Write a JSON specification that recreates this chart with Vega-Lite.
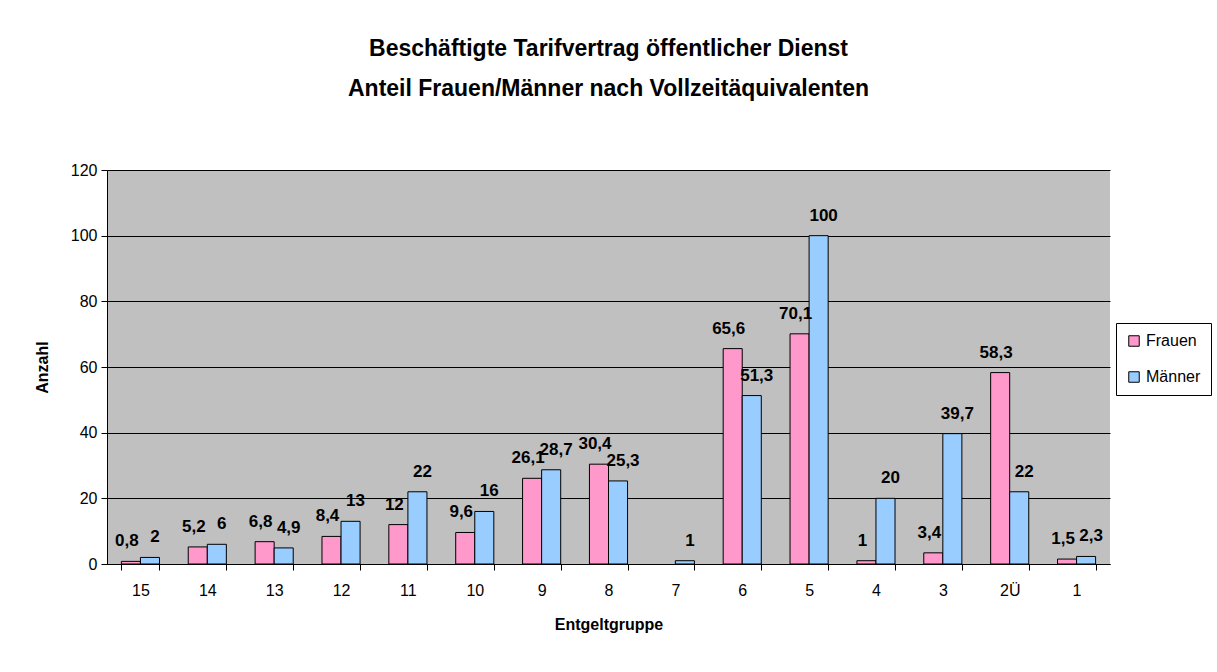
{
  "$schema": "https://vega.github.io/schema/vega-lite/v6.json",
  "autosize": "none",
  "width": 1003,
  "height": 394,
  "padding": {"left": 107, "top": 170, "right": 107, "bottom": 108},
  "background": "white",
  "title": {
    "text": ["Beschäftigte Tarifvertrag öffentlicher Dienst", "Anteil Frauen/Männer nach Vollzeitäquivalenten"],
    "font": "Liberation Sans",
    "fontSize": 23,
    "fontWeight": "bold",
    "color": "black",
    "anchor": "middle",
    "lineHeight": 40,
    "offset": 61
  },
  "config": {
    "locale": {"number": {"decimal": ",", "thousands": ".", "grouping": [3], "currency": ["", " €"]}},
    "view": {"fill": "#C0C0C0", "stroke": null},
    "font": "Liberation Sans",
    "axis": {
      "labelFont": "Liberation Sans",
      "labelFontSize": 16,
      "labelColor": "black",
      "titleFont": "Liberation Sans",
      "titleFontSize": 16,
      "titleFontWeight": "bold",
      "titleColor": "black",
      "domainColor": "black",
      "tickColor": "black",
      "gridColor": "black",
      "gridOpacity": 1
    }
  },
  "data": {
    "values": [
      {"Gruppe": "15", "Geschlecht": "Frauen", "Anzahl": 0.8},
      {"Gruppe": "15", "Geschlecht": "Männer", "Anzahl": 2},
      {"Gruppe": "14", "Geschlecht": "Frauen", "Anzahl": 5.2},
      {"Gruppe": "14", "Geschlecht": "Männer", "Anzahl": 6},
      {"Gruppe": "13", "Geschlecht": "Frauen", "Anzahl": 6.8},
      {"Gruppe": "13", "Geschlecht": "Männer", "Anzahl": 4.9},
      {"Gruppe": "12", "Geschlecht": "Frauen", "Anzahl": 8.4},
      {"Gruppe": "12", "Geschlecht": "Männer", "Anzahl": 13},
      {"Gruppe": "11", "Geschlecht": "Frauen", "Anzahl": 12},
      {"Gruppe": "11", "Geschlecht": "Männer", "Anzahl": 22},
      {"Gruppe": "10", "Geschlecht": "Frauen", "Anzahl": 9.6},
      {"Gruppe": "10", "Geschlecht": "Männer", "Anzahl": 16},
      {"Gruppe": "9", "Geschlecht": "Frauen", "Anzahl": 26.1},
      {"Gruppe": "9", "Geschlecht": "Männer", "Anzahl": 28.7},
      {"Gruppe": "8", "Geschlecht": "Frauen", "Anzahl": 30.4},
      {"Gruppe": "8", "Geschlecht": "Männer", "Anzahl": 25.3},
      {"Gruppe": "7", "Geschlecht": "Männer", "Anzahl": 1},
      {"Gruppe": "6", "Geschlecht": "Frauen", "Anzahl": 65.6},
      {"Gruppe": "6", "Geschlecht": "Männer", "Anzahl": 51.3},
      {"Gruppe": "5", "Geschlecht": "Frauen", "Anzahl": 70.1},
      {"Gruppe": "5", "Geschlecht": "Männer", "Anzahl": 100},
      {"Gruppe": "4", "Geschlecht": "Frauen", "Anzahl": 1},
      {"Gruppe": "4", "Geschlecht": "Männer", "Anzahl": 20},
      {"Gruppe": "3", "Geschlecht": "Frauen", "Anzahl": 3.4},
      {"Gruppe": "3", "Geschlecht": "Männer", "Anzahl": 39.7},
      {"Gruppe": "2Ü", "Geschlecht": "Frauen", "Anzahl": 58.3},
      {"Gruppe": "2Ü", "Geschlecht": "Männer", "Anzahl": 22},
      {"Gruppe": "1", "Geschlecht": "Frauen", "Anzahl": 1.5},
      {"Gruppe": "1", "Geschlecht": "Männer", "Anzahl": 2.3}
    ]
  },
  "encoding": {
    "x": {
      "field": "Gruppe",
      "type": "nominal",
      "sort": ["15", "14", "13", "12", "11", "10", "9", "8", "7", "6", "5", "4", "3", "2Ü", "1"],
      "scale": {"paddingInner": 0.43, "paddingOuter": 0.215},
      "axis": {
        "title": "Entgeltgruppe",
        "labelAngle": 0,
        "tickBand": "extent",
        "tickSize": 6,
        "labelPadding": 12,
        "titlePadding": 18
      }
    },
    "xOffset": {"field": "Geschlecht", "type": "nominal", "scale": {"domain": ["Frauen", "Männer"]}},
    "y": {
      "field": "Anzahl",
      "type": "quantitative",
      "scale": {"domain": [0, 120]},
      "axis": {
        "title": "Anzahl",
        "values": [0, 20, 40, 60, 80, 100, 120],
        "tickSize": 6,
        "labelPadding": 4,
        "titlePadding": 20,
        "grid": true
      }
    }
  },
  "layer": [
    {
      "mark": {"type": "bar", "stroke": "black", "strokeWidth": 1},
      "encoding": {
        "color": {
          "field": "Geschlecht",
          "type": "nominal",
          "scale": {"domain": ["Frauen", "Männer"], "range": ["#FF99CC", "#99CCFF"]},
          "legend": {
            "title": null,
            "orient": "none",
            "legendX": 1009,
            "legendY": 153,
            "direction": "vertical",
            "symbolType": "square",
            "symbolSize": 110,
            "symbolStrokeColor": "black",
            "symbolStrokeWidth": 1,
            "labelFont": "Liberation Sans",
            "labelFontSize": 16,
            "labelColor": "black",
            "rowPadding": 20,
            "padding": 10,
            "strokeColor": "black",
            "fillColor": "white"
          }
        }
      }
    },
    {
      "transform": [{"filter": "datum.Geschlecht == 'Frauen'"}],
      "mark": {"type": "text", "baseline": "bottom", "dy": -11, "dx": -4, "fontSize": 17, "fontWeight": "bold", "color": "black", "font": "Liberation Sans"},
      "encoding": {
        "text": {"field": "Anzahl", "type": "quantitative", "format": ".1~f"}
      }
    },
    {
      "transform": [{"filter": "datum.Geschlecht == 'Männer'"}],
      "mark": {"type": "text", "baseline": "bottom", "dy": -11, "dx": 5, "fontSize": 17, "fontWeight": "bold", "color": "black", "font": "Liberation Sans"},
      "encoding": {
        "text": {"field": "Anzahl", "type": "quantitative", "format": ".1~f"}
      }
    }
  ]
}
